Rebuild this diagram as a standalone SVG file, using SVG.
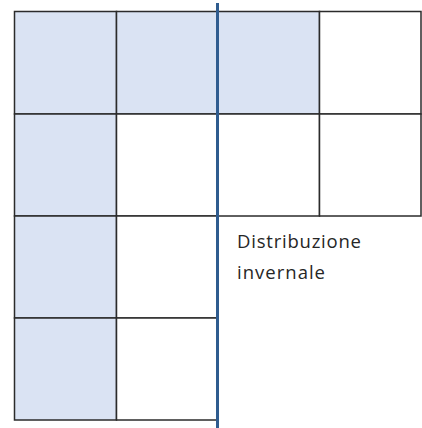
<svg xmlns="http://www.w3.org/2000/svg" width="422" height="428" viewBox="0 0 422 428">
<style>
.cell{stroke:#2b2b2b;stroke-width:1.5}
.blue{fill:#DAE3F3}
.white{fill:#ffffff}
.lbl{font-family:"Open Sans","Liberation Sans",Arial,sans-serif;font-size:18.5px;fill:#262626}
</style>
<rect width="422" height="428" fill="#ffffff"/>
<g id="cells">
<g id="r1c1"><rect class="cell blue" x="14.5" y="11.5" width="102" height="102.5"/></g>
<g id="r1c2"><rect class="cell blue" x="116.5" y="11.5" width="101.5" height="102.5"/></g>
<g id="r1c3"><rect class="cell blue" x="218" y="11.5" width="101.5" height="102.5"/></g>
<g id="r1c4"><rect class="cell white" x="319.5" y="11.5" width="101.5" height="102.5"/></g>
<g id="r2c1"><rect class="cell blue" x="14.5" y="114" width="102" height="102"/></g>
<g id="r2c2"><rect class="cell white" x="116.5" y="114" width="101.5" height="102"/></g>
<g id="r2c3"><rect class="cell white" x="218" y="114" width="101.5" height="102"/></g>
<g id="r2c4"><rect class="cell white" x="319.5" y="114" width="101.5" height="102"/></g>
<g id="r3c1"><rect class="cell blue" x="14.5" y="216" width="102" height="102"/></g>
<g id="r3c2"><rect class="cell white" x="116.5" y="216" width="101.5" height="102"/></g>
<g id="r4c1"><rect class="cell blue" x="14.5" y="318" width="102" height="102"/></g>
<g id="r4c2"><rect class="cell white" x="116.5" y="318" width="101.5" height="102"/></g>
</g>
<g id="connectors">
<line x1="217.5" y1="3" x2="217.5" y2="428" stroke="#2F5C8F" stroke-width="3"/>
</g>
<g id="label">
<text class="lbl" x="237" y="248" textLength="124" lengthAdjust="spacing">Distribuzione</text>
<text class="lbl" x="237" y="279" textLength="88" lengthAdjust="spacing">invernale</text>
</g>
</svg>
